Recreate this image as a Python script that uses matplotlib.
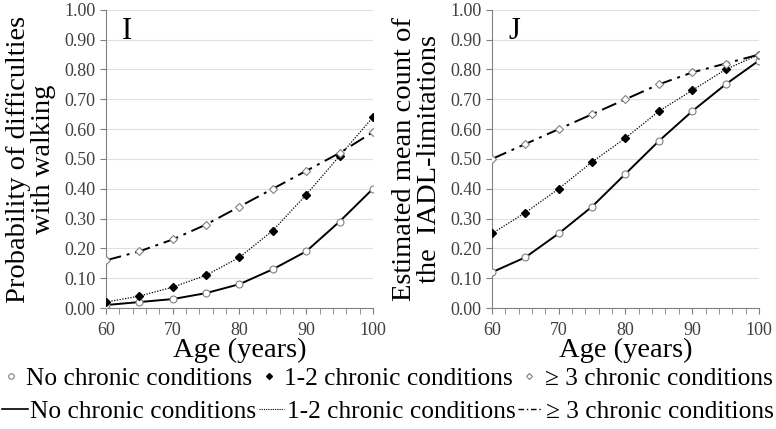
import numpy as np
import matplotlib.pyplot as plt
from matplotlib.lines import Line2D

plt.rcParams['font.family'] = ['Liberation Serif', 'DejaVu Serif']

# Data
ages = [60, 65, 70, 75, 80, 85, 90, 95, 100]

walk_none = [0.01, 0.02, 0.03, 0.05, 0.08, 0.13, 0.19, 0.29, 0.40]
walk_12 = [0.02, 0.04, 0.07, 0.11, 0.17, 0.26, 0.38, 0.51, 0.64]
walk_3 = [0.16, 0.19, 0.23, 0.28, 0.34, 0.40, 0.46, 0.52, 0.59]

iadl_none = [0.12, 0.17, 0.25, 0.34, 0.45, 0.56, 0.66, 0.75, 0.83]
iadl_12 = [0.25, 0.32, 0.40, 0.49, 0.57, 0.66, 0.73, 0.80, 0.85]
iadl_3 = [0.50, 0.55, 0.60, 0.65, 0.70, 0.75, 0.79, 0.82, 0.85]

labels = ['No chronic conditions', '1-2 chronic conditions', '\u2265 3 chronic conditions']

fig = plt.figure(figsize=(7.76, 4.29), dpi=100)
ax1 = fig.add_axes([0.1366, 0.282, 0.344, 0.695])
ax2 = fig.add_axes([0.634, 0.282, 0.344, 0.695])

gray = '#808080'


def draw(ax, none, one2, three, letter, ylabel):
    ax.plot(ages, three, color='black', lw=1.4, ls=(0, (8, 3, 1.5, 3)), zorder=3)
    ax.plot(ages, one2, color='black', lw=0.9, ls=(0, (1, 1.2)), zorder=3)
    ax.plot(ages, none, color='black', lw=1.4, ls='-', zorder=3)
    ax.plot(ages, none, ls='none', marker='o', ms=5, mfc='white', mec=gray, mew=0.8, zorder=4)
    ax.plot(ages, one2, ls='none', marker='D', ms=4, mfc='black', mec='black', zorder=4)
    ax.plot(ages, three, ls='none', marker='D', ms=4, mfc='white', mec=gray, mew=0.8, zorder=4)
    ax.set_xlim(60, 100)
    ax.set_ylim(0, 1)
    ax.set_xticks(range(60, 101, 10))
    ax.set_xticks(range(60, 101, 2), minor=True)
    ax.set_yticks(np.arange(0, 1.01, 0.1))
    ax.set_yticklabels(['%.2f' % v for v in np.arange(0, 1.01, 0.1)])
    ax.grid(axis='y', color='#e0e0e0', lw=0.8)
    ax.set_axisbelow(True)
    for s in ['top', 'right']:
        ax.spines[s].set_visible(False)
    ax.spines['left'].set_color(gray)
    ax.spines['bottom'].set_color(gray)
    ax.tick_params(axis='x', which='both', direction='out', length=4, color=gray,
                   labelsize=13, labelcolor='#404040', pad=6)
    ax.tick_params(axis='y', length=4, color=gray, labelsize=13, labelcolor='#404040')
    ax.set_xlabel('Age (years)', fontsize=20.5, labelpad=-1)
    ax.set_ylabel(ylabel, fontsize=20.5, labelpad=6, linespacing=1.0)
    ax.text(0.06, 0.975, letter, transform=ax.transAxes, fontsize=22, va='top', ha='left')


draw(ax1, walk_none, walk_12, walk_3, 'I', 'Probability of difficulties\nwith walking')
draw(ax2, iadl_none, iadl_12, iadl_3, 'J', 'Estimated mean count of\nthe  IADL-limitations')

mk_handles = [
    Line2D([], [], ls='none', marker='o', ms=4, mfc='white', mec=gray, mew=0.8),
    Line2D([], [], ls='none', marker='D', ms=3, mfc='black', mec='black'),
    Line2D([], [], ls='none', marker='D', ms=3, mfc='white', mec=gray, mew=0.8),
]
ln_handles = [
    Line2D([], [], color='black', lw=1.2, ls='-'),
    Line2D([], [], color='black', lw=0.8, ls=(0, (1, 1))),
    Line2D([], [], color='black', lw=1.0, ls=(0, (4, 2, 1, 2))),
]
fig.legend(mk_handles, labels, loc='center', bbox_to_anchor=(0.5, 0.118), ncol=3,
           frameon=False, fontsize=18.3, handlelength=0.6, handletextpad=0.3,
           columnspacing=0.35, borderaxespad=0, borderpad=0)
fig.legend(ln_handles, labels, loc='center', bbox_to_anchor=(0.5, 0.04), ncol=3,
           frameon=False, fontsize=18.3, handlelength=1.0, handletextpad=0.1,
           columnspacing=0.1, borderaxespad=0, borderpad=0)

fig.savefig('out.png', dpi=100)
